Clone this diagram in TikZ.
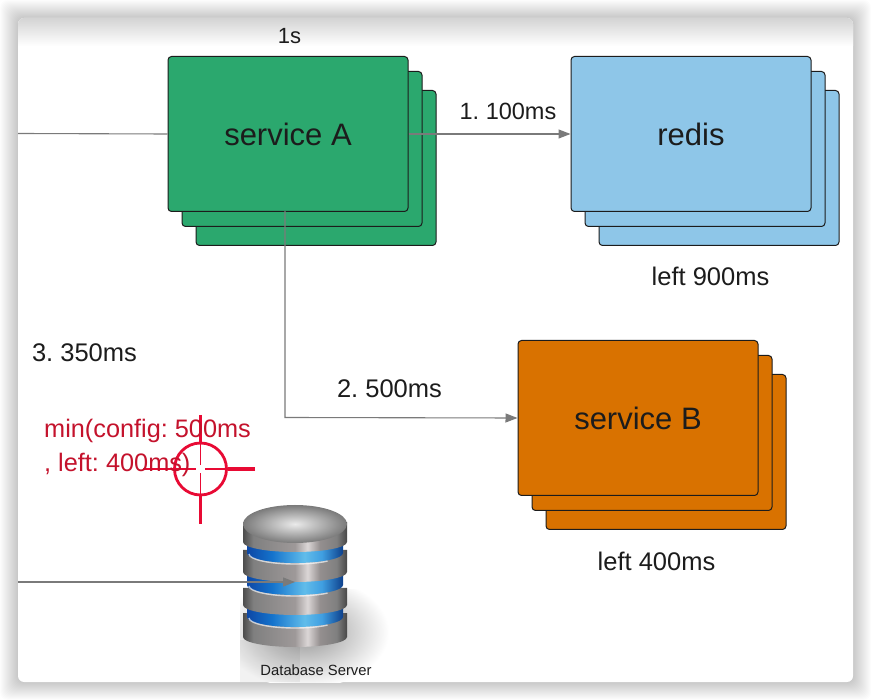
\documentclass[tikz,border=0pt]{standalone}
\usepackage{fontspec}
\setmainfont{Liberation Sans}
\usetikzlibrary{arrows.meta,calc}
\definecolor{ink}{HTML}{1C1C1C}
\definecolor{wire}{HTML}{7A7A7A}
\definecolor{svcgreen}{HTML}{2BA86E}
\definecolor{svcblue}{HTML}{8EC6E8}
\definecolor{svcorange}{HTML}{D97200}
\definecolor{redtxt}{HTML}{C4122C}
\definecolor{redmark}{HTML}{E80A34}
\pgfdeclarehorizontalshading{metal}{100bp}{
 rgb(0bp)=(0.30,0.30,0.30); rgb(25bp)=(0.30,0.30,0.30); rgb(30bp)=(0.50,0.50,0.50); rgb(40bp)=(0.56,0.55,0.55);
 rgb(50bp)=(0.62,0.60,0.60); rgb(56bp)=(0.86,0.84,0.84); rgb(62bp)=(0.58,0.56,0.56);
 rgb(70bp)=(0.50,0.50,0.50); rgb(75bp)=(0.28,0.28,0.28); rgb(100bp)=(0.28,0.28,0.28)}
\pgfdeclarehorizontalshading{bluering}{100bp}{
 rgb(0bp)=(0.05,0.22,0.55); rgb(25bp)=(0.05,0.28,0.65); rgb(38bp)=(0.08,0.45,0.80);
 rgb(55bp)=(0.38,0.74,0.92); rgb(64bp)=(0.25,0.62,0.88); rgb(75bp)=(0.05,0.25,0.55); rgb(100bp)=(0.05,0.25,0.55)}
\tikzset{
  lbl/.style={font=\fontsize{25.5}{30}\selectfont,text=ink,inner sep=0pt},
  boxlbl/.style={font=\fontsize{31}{36}\selectfont,text=ink,inner sep=0pt},
  redlbl/.style={font=\fontsize{25.3}{30}\selectfont,text=redtxt,inner sep=0pt,anchor=west},
  card/.style={draw=ink,line width=1pt,rounded corners=3.5pt,minimum width=240pt,minimum height=155pt,inner sep=0pt},
  link/.style={draw=wire,line width=1.1pt},
  linkarrow/.style={link,-{Triangle[length=12pt,width=9pt,fill=wire]}},
  crossthin/.style={draw=redmark,line width=1.2pt},
  crossthick/.style={draw=redmark,line width=3.2pt},
}
% top y, bottom y
\newcommand{\dbmetal}[2]{\shade[shading=metal] (243,#1) -- (243,#2) arc[start angle=180,end angle=0,x radius=52,y radius=10] -- (347,#1) -- cycle;}
\newcommand{\dbblue}[2]{\shade[shading=bluering] (247,#1) -- (247,#2) arc[start angle=180,end angle=0,x radius=48,y radius=10] -- (343,#1) -- cycle;
  \draw[white,opacity=0.65,line width=1.4pt] (249,#2+1) arc[start angle=180,end angle=45,x radius=46,y radius=10];}
\begin{document}
\begin{tikzpicture}[x=1pt,y=-1pt]
\frenchspacing
\useasboundingbox (0,0) rectangle (871,700);
\fill[white] (0,0) rectangle (871,700);
% window shadow
\foreach \i in {1,...,18}{
  \fill[black,opacity=0.011,rounded corners=8pt] ($(18,18)+(-\i,-\i)$) rectangle ($(853,682)+(\i,\i)$);
}
\fill[white,rounded corners=6pt] (18,18) rectangle (853,682);
\begin{scope}
  \clip[rounded corners=6pt] (18,18) rectangle (853,682);
  \shade[top color=black!17,bottom color=white] (18,18) rectangle (853,46);
\end{scope}
% service A
\node[card,fill=svcgreen,anchor=north west] (a3) at (195.5,90) {};
\node[card,fill=svcgreen,anchor=north west] (a2) at (181.5,71) {};
\node[card,fill=svcgreen,anchor=north west,boxlbl] (a1) at (167.5,56) {service A};
% redis
\node[card,fill=svcblue,anchor=north west] (r3) at (598.5,90) {};
\node[card,fill=svcblue,anchor=north west] (r2) at (584.5,71) {};
\node[card,fill=svcblue,anchor=north west,boxlbl] (r1) at (570.5,56) {redis};
% service B
\node[card,fill=svcorange,anchor=north west] (b3) at (545.5,374) {};
\node[card,fill=svcorange,anchor=north west] (b2) at (531.5,355) {};
\node[card,fill=svcorange,anchor=north west,boxlbl] (b1) at (517.5,340) {service B};
% database
\begin{scope}
  \clip (240,590) rectangle (392,682);
  \shade[inner color=black!42,outer color=white] (305,632) ellipse[x radius=84,y radius=56];
  \fill[black,opacity=0.05] (240,640) rectangle (300,682);
\end{scope}
\dbmetal{613}{637}
\dbblue{600}{617}
\dbmetal{588}{605}
\dbblue{562}{585}
\dbmetal{550}{572}
\dbblue{530}{553}
\dbmetal{522}{542}
\shade[inner color=black!8,outer color=black!52] (295,524) ellipse[x radius=52,y radius=19];
\node[inner sep=0pt,minimum width=104pt,minimum height=143pt] (db) at (295,575) {};
\node[inner sep=0pt,font=\fontsize{14.8}{18}\selectfont,text=ink] (dbl) at (316,670) {Database Server};
% connectors
\coordinate (ina) at (18,133.5);
\coordinate (indb) at (18,582);
\coordinate (ab) at (285,211);
\coordinate (abturn) at (285,417.5);
\draw[link] (ina) -- (a1.west);
\draw[linkarrow] (a1.east) -- (r1.west);
\draw[linkarrow] (ab) -- (abturn) -- (b1.west);
\draw[linkarrow] (indb) -- (db.center |- indb);
% labels
\node[lbl,font=\fontsize{22}{26}\selectfont] (t1s) at (289.5,36) {1s};
\node[lbl,font=\fontsize{23.5}{28}\selectfont] (t1) at (508,111) {1. 100ms};
\node[lbl] (t2) at (389.5,389) {2. 500ms};
\node[lbl] (t3) at (84.5,353) {3. 350ms};
\node[lbl] (tl9) at (710.5,276) {left 900ms};
\node[lbl] (tl4) at (656.5,561) {left 400ms};
% crosshair
\node[draw=redmark,line width=2.8pt,circle,minimum size=52pt,inner sep=0pt] (cross) at (200.5,469) {};
\coordinate (cn) at (200.5,415);
\coordinate (cs) at (200.5,524);
\coordinate (cw) at (143,469);
\coordinate (ce) at (255,469);
\draw[crossthick] (cn) -- (cross.north);
\draw[crossthick] (cs) -- (cross.south);
\draw[crossthin] (cw) -- (cross.west);
\draw[crossthick] (ce) -- (cross.east);
\draw[crossthin] (cross.north) -- ++(0,23);
\draw[crossthin] (cross.south) -- ++(0,-23);
\draw[crossthin] (cross.west) -- ++(23,0);
\draw[crossthin] (cross.east) -- ++(-23,0);
\node[redlbl] (m1) at (44,431) {min(config: 500ms};
\node[redlbl] (m2) at (44,465) {, left: 400ms)};
\end{tikzpicture}
\end{document}
